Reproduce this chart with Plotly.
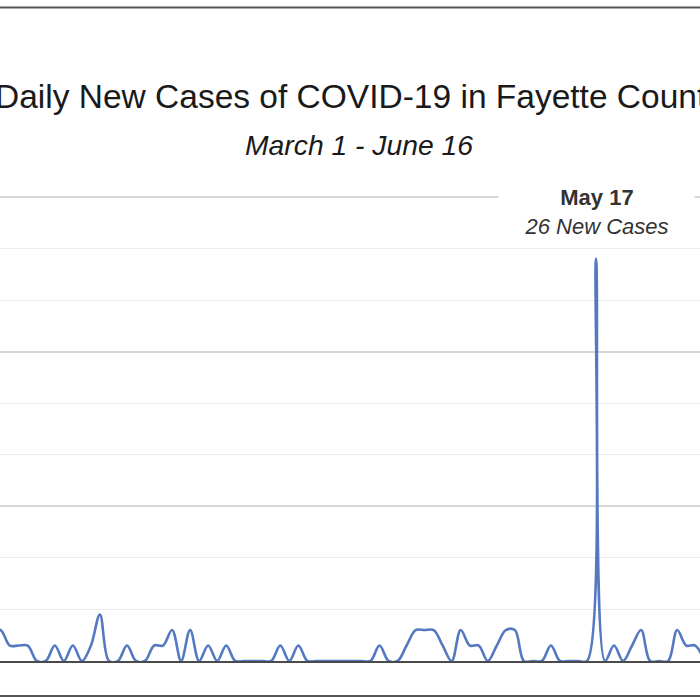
import plotly.graph_objects as go
import pandas as pd

# ---- data ----
dates = pd.date_range("2020-03-11", "2020-05-29", freq="D").strftime("%Y-%m-%d").tolist()
new_cases = [
    2,                                   # Mar 11
    2, 1, 1, 1, 0, 0, 1, 0, 1, 0,        # Mar 12-21
    1, 3, 0, 0, 1, 0, 0, 1, 1, 2,        # Mar 22-31
    0, 2, 0, 1, 0, 1, 0, 0, 0, 0,        # Apr 1-10
    0, 1, 0, 1, 0, 0, 0, 0, 0, 0,        # Apr 11-20
    0, 0, 1, 0, 0, 1, 2, 2, 2, 1,        # Apr 21-30
    0, 2, 1, 1, 0, 1, 2, 2, 0, 0,        # May 1-10
    0, 1, 0, 0, 0, 0, 26, 0, 1, 0,       # May 11-20
    1, 2, 0, 0, 0, 2, 1, 1, 0,           # May 21-29
]
peak_label_date = "2020-05-17"
peak_label_value = 26

title_text = "Daily New Cases of COVID-19 in Fayette County"
subtitle_text = "March 1 - June 16"

# ---- figure ----
W, H = 700, 700
top_px, base_px = 193, 661
plot_h = base_px - top_px
px_per_case = 15.467
y_top = plot_h / px_per_case

fig = go.Figure()
fig.add_trace(go.Scatter(
    x=dates, y=new_cases, mode="lines",
    line=dict(color="#5479c1", width=2.6, shape="spline", smoothing=1),
    hoverinfo="skip", showlegend=False,
))

def py_to_paper(py):
    return (base_px - py) / plot_h

fig.update_layout(
    width=W, height=H,
    margin=dict(l=0, r=0, t=top_px, b=H - base_px, pad=0),
    paper_bgcolor="white", plot_bgcolor="white",
    title=dict(
        text=title_text, x=359 / W, xanchor="center",
        y=1 - 96 / H, yanchor="middle", yref="container",
        font=dict(family="Liberation Sans, Arial, sans-serif", size=33.5, color="#1a1a1a"),
    ),
    xaxis=dict(
        type="date",
        range=["2020-03-11 22:08", "2020-05-28 12:43"],
        showgrid=False, showticklabels=False, ticks="",
        showline=True, linecolor="#4a4a4a", linewidth=2, zeroline=False,
    ),
    yaxis=dict(
        range=[0, y_top], dtick=10, tick0=0,
        showgrid=True, gridcolor="#d6d6d6", gridwidth=1.6,
        showticklabels=False, ticks="", zeroline=False, showline=False,
        minor=dict(dtick=10 / 3, tick0=0, showgrid=True, gridcolor="#ececec", gridwidth=1.3),
    ),
    annotations=[
        dict(
            text=f"<i>{subtitle_text}</i>", xref="paper", yref="paper",
            x=359 / W, y=py_to_paper(145), xanchor="center", yanchor="middle",
            showarrow=False,
            font=dict(family="Liberation Sans, Arial, sans-serif", size=28.3, color="#1a1a1a"),
        ),
        dict(
            text=f"<b>May 17</b><br><i>{peak_label_value} New Cases</i>",
            xref="x", yref="paper", x=peak_label_date, y=py_to_paper(212),
            xanchor="center", yanchor="middle", showarrow=False,
            bgcolor="white", width=185, borderpad=5, align="center",
            font=dict(family="Liberation Sans, Arial, sans-serif", size=22, color="#333333"),
        ),
    ],
    shapes=[
        dict(type="line", xref="paper", yref="paper", x0=0, x1=1,
             y0=py_to_paper(7.5), y1=py_to_paper(7.5),
             line=dict(color="#555555", width=2)),
        dict(type="line", xref="paper", yref="paper", x0=0, x1=1,
             y0=py_to_paper(696), y1=py_to_paper(696),
             line=dict(color="#555555", width=2)),
    ],
)

fig.write_html("out.html")
